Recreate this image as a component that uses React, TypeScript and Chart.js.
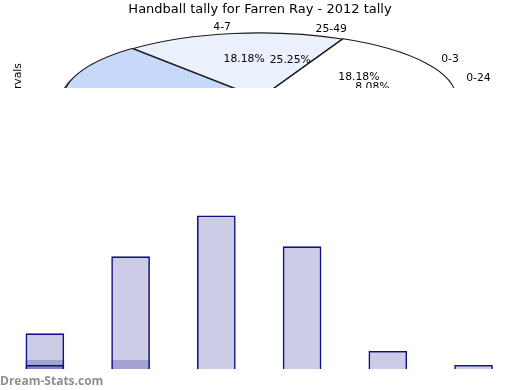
import React, { useEffect, useRef } from "react";
import { Chart, registerables } from "chart.js";

Chart.register(...registerables);

// ---- data ----
const chartTitle = "Handball tally for Farren Ray - 2012 tally";
const axisTitle = "Intervals";
const pieLabels = ["Other", "4-7", "0-3", "25-49", "0-24"];
const pieValues = [30, 18, 18, 25, 8];
const pieColors = ["#c6d9fb", "#eaf1fd", "#ffffff", "#dde8fc", "#f3f7fe"];
const pieOffsets = [5, 0, 4, 0, 0];
// label angles (degrees counter-clockwise from east) used instead of slice mid-angle
const pieLabelAngles: Record<string, number> = { "25-49": 75, "0-24": 16 };

const barCategories = ["0-3", "4-7", "8-11", "12-15", "16-19", "20-23"];
const barValues = [5.72, 18.05, 24.6, 19.65, 2.88, 0.64];
const barOverlayA = [1.44, 1.44, null, null, null, null];
const barOverlayB = [0.64, null, null, null, null, null];
const watermark = "Dream-Stats.com";

const FONT = "'DejaVu Sans', sans-serif";
const BAR_FILL = "rgba(0,0,128,0.2)";
const BAR_EDGE = "rgb(16,16,136)";

function squash(ctx: any, arc: any, ratio: number) {
  ctx.translate(arc.x, arc.y);
  ctx.scale(1, ratio);
  ctx.translate(-arc.x, -arc.y);
}

const ellipsePie = {
  id: "ellipsePie",
  beforeDatasetsDraw(chart: any, _a: any, opts: any) {
    const ctx = chart.ctx;
    const arcs = chart.getDatasetMeta(0).data;
    const arc = arcs[0];
    if (!arc) return;
    const base = ctx.getTransform();
    const proto = CanvasRenderingContext2D.prototype.stroke;
    ctx.stroke = function (...args: any[]) {
      this.save();
      this.setTransform(base);
      proto.apply(this, args as any);
      this.restore();
    };
    // shadow-like copy of the wedges, slightly shifted
    ctx.save();
    ctx.translate(opts.ghostX, opts.ghostY);
    squash(ctx, arc, opts.ratio);
    arcs.forEach((a: any) => a.draw(ctx));
    ctx.restore();
    ctx.save();
    squash(ctx, arc, opts.ratio);
    chart.$ellipseOn = true;
  },
  afterDatasetsDraw(chart: any, _a: any, opts: any) {
    const ctx = chart.ctx;
    if (chart.$ellipseOn) {
      ctx.restore();
      delete ctx.stroke;
      chart.$ellipseOn = false;
    }
    const meta = chart.getDatasetMeta(0);
    const labels = chart.data.labels;
    const values = chart.data.datasets[0].data as number[];
    const total = values.reduce((s, v) => s + v, 0);
    ctx.save();
    ctx.font = opts.font;
    ctx.fillStyle = opts.color;
    ctx.textBaseline = "middle";
    meta.data.forEach((arc: any, i: number) => {
      const lab = labels[i];
      const mid =
        opts.angles[lab] !== undefined
          ? (-opts.angles[lab] * Math.PI) / 180
          : (arc.startAngle + arc.endAngle) / 2;
      const R = arc.outerRadius;
      const c = Math.cos(mid);
      const s = Math.sin(mid);
      ctx.textAlign = c >= 0 ? "left" : "right";
      ctx.fillText(lab, arc.x + R * opts.labelDist * c, arc.y + R * opts.ratio * opts.labelDist * s);
      ctx.textAlign = "center";
      ctx.fillText(
        ((values[i] / total) * 100).toFixed(2) + "%",
        arc.x + R * opts.pctDist * c,
        arc.y + R * opts.ratio * opts.pctDist * s
      );
    });
    // rotated axis title
    ctx.translate(opts.axisX, opts.axisY);
    ctx.rotate(-Math.PI / 2);
    ctx.textAlign = "center";
    ctx.textBaseline = "alphabetic";
    ctx.fillText(axisTitle, 0, 0);
    ctx.restore();
  },
};

const watermarkPlugin = {
  id: "watermark",
  afterDraw(chart: any, _a: any, opts: any) {
    const ctx = chart.ctx;
    ctx.save();
    ctx.font = opts.font;
    ctx.fillStyle = opts.color;
    ctx.textAlign = "left";
    ctx.textBaseline = "alphabetic";
    ctx.fillText(watermark, opts.x, opts.y);
    ctx.restore();
  },
};

export default function App() {
  const pieRef = useRef<HTMLCanvasElement>(null);
  const barRef = useRef<HTMLCanvasElement>(null);

  useEffect(() => {
    const pie = new Chart(pieRef.current as HTMLCanvasElement, {
      type: "pie",
      data: {
        labels: pieLabels,
        datasets: [
          {
            data: pieValues,
            backgroundColor: pieColors,
            borderColor: "#1a1a1a",
            borderWidth: 1.1,
            offset: pieOffsets,
            radius: 195,
            rotation: -149.6,
          } as any,
        ],
      },
      options: {
        animation: false,
        responsive: true,
        maintainAspectRatio: false,
        events: [],
        layout: { padding: { top: 0, left: 0, right: 0, bottom: 211.6 } },
        plugins: {
          legend: { display: false },
          tooltip: { enabled: false },
          title: {
            display: true,
            text: chartTitle,
            color: "#000",
            font: { family: FONT, size: 13, weight: "normal" },
            padding: { top: 2, bottom: 0 },
          },
          ellipsePie: {
            ratio: 0.334,
            ghostX: -3,
            ghostY: 3,
            labelDist: 1.1,
            pctDist: 0.6,
            font: `10.8px ${FONT}`,
            color: "#000",
            angles: pieLabelAngles,
            axisX: 20.5,
            axisY: 86.5,
          },
        } as any,
      },
      plugins: [ellipsePie as any],
    });

    const bar = new Chart(barRef.current as HTMLCanvasElement, {
      type: "bar",
      data: {
        labels: barCategories,
        datasets: [
          {
            data: barValues,
            backgroundColor: BAR_FILL,
            borderColor: BAR_EDGE,
            borderWidth: 1.6,
            grouped: false,
            barPercentage: 0.451,
            categoryPercentage: 1,
          } as any,
          {
            data: barOverlayA,
            backgroundColor: BAR_FILL,
            borderWidth: 0,
            grouped: false,
            barPercentage: 0.451,
            categoryPercentage: 1,
          } as any,
          {
            data: barOverlayB,
            backgroundColor: BAR_FILL,
            borderColor: BAR_EDGE,
            borderWidth: 1.6,
            grouped: false,
            barPercentage: 0.451,
            categoryPercentage: 1,
          } as any,
        ],
      },
      options: {
        animation: false,
        responsive: true,
        maintainAspectRatio: false,
        events: [],
        layout: { padding: { top: 0, left: 2, right: 3.6, bottom: 21 } },
        scales: {
          x: { display: false },
          y: { display: false, min: 0, max: 45 },
        },
        plugins: {
          legend: { display: false },
          tooltip: { enabled: false },
          title: { display: false },
          watermark: {
            font: `bold 12px 'Open Sans', sans-serif`,
            color: "#8f8f8f",
            x: 0,
            y: 297,
          },
        } as any,
      },
      plugins: [watermarkPlugin as any],
    });

    return () => {
      pie.destroy();
      bar.destroy();
    };
  }, []);

  return (
    <div
      style={{
        position: "absolute",
        left: 0,
        top: 0,
        width: 520,
        height: 390,
        overflow: "hidden",
        background: "#fff",
      }}
    >
      <div style={{ position: "absolute", left: 0, top: 0, width: 520, height: 390 }}>
        <canvas ref={pieRef} />
      </div>
      <div
        style={{
          position: "absolute",
          left: 0,
          top: 88,
          width: 520,
          height: 302,
          background: "#fff",
        }}
      >
        <canvas ref={barRef} />
      </div>
    </div>
  );
}
